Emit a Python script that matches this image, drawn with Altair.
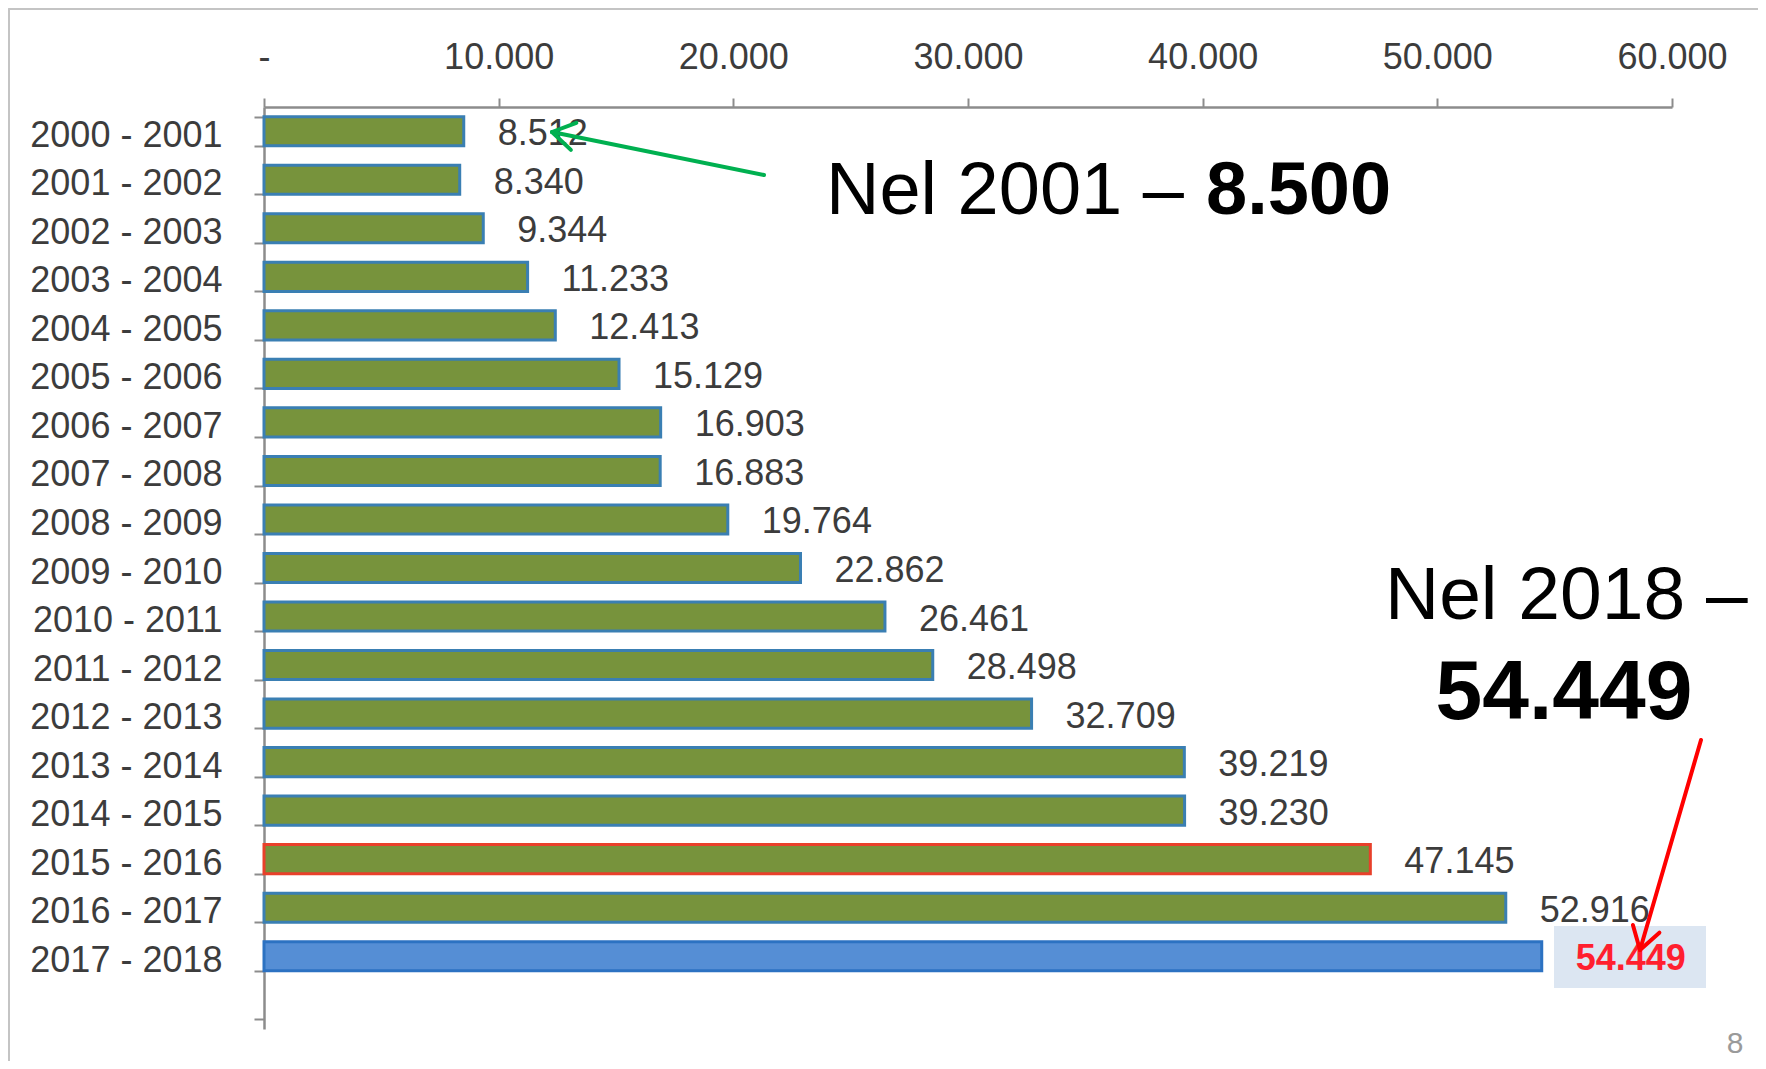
import math
import altair as alt
import pandas as pd

# ---- data ----
periods = [
    "2000 - 2001", "2001 - 2002", "2002 - 2003", "2003 - 2004", "2004 - 2005",
    "2005 - 2006", "2006 - 2007", "2007 - 2008", "2008 - 2009", "2009 - 2010",
    "2010 - 2011", "2011 - 2012", "2012 - 2013", "2013 - 2014", "2014 - 2015",
    "2015 - 2016", "2016 - 2017", "2017 - 2018",
]
students = [
    8512, 8340, 9344, 11233, 12413, 15129, 16903, 16883, 19764, 22862,
    26461, 28498, 32709, 39219, 39230, 47145, 52916, 54449,
]
x_ticks = [0, 10000, 20000, 30000, 40000, 50000, 60000]

df = pd.DataFrame({"period": periods, "value": students})
highlight_red = periods[15]
last_period = periods[-1]

W, H = 1408, 922
FONT = "Liberation Sans"
GREY = "#8c8c8c"
TXT = "#3c3c3c"
y_domain = periods + [" "]


def one():
    return alt.Data(values=[{}])


x_enc = alt.X(
    "value:Q",
    title=None,
    scale=alt.Scale(domain=[0, 60000], nice=False, zero=True),
    axis=alt.Axis(
        orient="top", values=x_ticks,
        labelExpr="datum.value == 0 ? '-' : replace(format(datum.value, ','), ',', '.')",
        grid=False, domainColor=GREY, domainWidth=2.5, tickColor=GREY, tickWidth=2,
        tickSize=9, labelPadding=30, labelBaseline="alphabetic", labelFont=FONT,
        labelFontSize=36, labelColor=TXT, labelFlush=False, labelOverlap=False,
    ),
)
y_enc = alt.Y(
    "period:N",
    title=None,
    sort=y_domain,
    scale=alt.Scale(domain=y_domain, paddingInner=0.4, paddingOuter=0.2),
    axis=alt.Axis(
        orient="left", tickBand="extent", tickSize=10, tickColor=GREY, tickWidth=2,
        domainColor=GREY, domainWidth=2.5, labelPadding=32, labelOffset=4,
        labelFont=FONT, labelFontSize=36, labelColor=TXT, grid=False,
        labelLimit=0, labelOverlap=False,
    ),
)

bars = alt.Chart(df).mark_bar(strokeWidth=3).encode(
    x=x_enc,
    y=y_enc,
    fill=alt.when(alt.datum.period == last_period)
    .then(alt.value("#558ed5"))
    .otherwise(alt.value("#77933c")),
    stroke=alt.when(alt.datum.period == highlight_red)
    .then(alt.value("#e8402a"))
    .when(alt.datum.period == last_period)
    .then(alt.value("#2c72c2"))
    .otherwise(alt.value("#3a7fb3")),
)

box = alt.Chart(one()).mark_rect(color="#dce6f2").encode(
    x=alt.value(1290), x2=alt.value(1442), y=alt.value(819), y2=alt.value(881)
)

label_base = alt.Chart(df).transform_calculate(
    label="replace(format(datum.value, ','), ',', '.')"
)
label_enc = dict(
    x=alt.X("value:Q", title=None),
    y=alt.Y("period:N", title=None, sort=y_domain),
    text="label:N",
)
labels = (
    label_base.transform_filter(alt.datum.period != last_period)
    .mark_text(align="left", baseline="middle", dx=34, dy=3, font=FONT,
               fontSize=36, color=TXT)
    .encode(**label_enc)
)
label_last = (
    label_base.transform_filter(alt.datum.period == last_period)
    .mark_text(align="left", baseline="middle", dx=34, dy=3, font=FONT,
               fontSize=36, fontWeight="bold", color="#ff1f2f")
    .encode(**label_enc)
)


def text_layer(txt, x, y, size, weight="normal", color="black", align="left"):
    return alt.Chart(one()).mark_text(
        text=txt, align=align, baseline="alphabetic", font=FONT, fontSize=size,
        fontWeight=weight, color=color,
    ).encode(x=alt.value(x), y=alt.value(y))


def rule_layer(x1, y1, x2, y2, color, width):
    return alt.Chart(one()).mark_rule(color=color, strokeWidth=width, strokeCap="round").encode(
        x=alt.value(x1), y=alt.value(y1), x2=alt.value(x2), y2=alt.value(y2)
    )


def arrow_layers(tail, tip, color, width=4, arm=26, ang=32):
    dx, dy = tail[0] - tip[0], tail[1] - tip[1]
    n = math.hypot(dx, dy)
    ux, uy = dx / n, dy / n
    out = [rule_layer(tail[0], tail[1], tip[0], tip[1], color, width)]
    for s in (1, -1):
        a = math.radians(ang) * s
        rx = ux * math.cos(a) - uy * math.sin(a)
        ry = ux * math.sin(a) + uy * math.cos(a)
        out.append(rule_layer(tip[0], tip[1], tip[0] + arm * rx, tip[1] + arm * ry, color, width))
    return out


annotations = [
    text_layer("Nel 2001 – ", 562, 107, 74),
    text_layer("8.500", 942, 107, 74, weight="bold"),
    text_layer("Nel 2018 –", 1121, 512, 75),
    text_layer("54.449", 1300, 612, 84, weight="bold", align="center"),
    text_layer("8", 1471, 946, 30, color="#9a9a9a", align="center"),
]

frame = [
    rule_layer(-255, -98, 1494, -98, "#c4c4c4", 2),
    rule_layer(-255, -98, -255, 958, "#c4c4c4", 2),
]

arrows = arrow_layers((500, 68), (288, 25), "#00b050") + arrow_layers(
    (1437, 633), (1376, 843), "#ff0000"
)

chart = (
    alt.layer(bars, box, labels, label_last, *frame, *annotations, *arrows)
    .properties(
        width=W,
        height=H,
        padding={"left": 256, "top": 99, "right": 86, "bottom": 32},
        autosize=alt.AutoSizeParams(type="none"),
        background="white",
    )
    .configure_view(stroke=None)
)

chart.save("out.html", embed_options={"renderer": "svg", "actions": False})
